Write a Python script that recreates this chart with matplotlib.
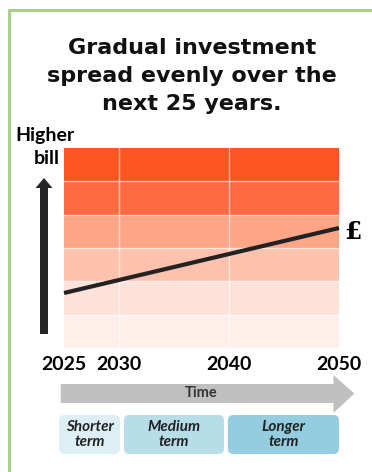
import matplotlib
matplotlib.use('Agg')
import matplotlib.pyplot as plt
from matplotlib.patches import Polygon, FancyBboxPatch, FancyArrow

# bill level over time (in bands, 0 = lowest, 6 = highest)
years = [2025, 2050]
bill = [1.65, 3.6]
year_ticks = [2025, 2030, 2040, 2050]
band_colors = ['#feefea', '#fee2d9', '#fdc2ad', '#fca587', '#fe6b43', '#fd5520']

terms = ['Shorter\nterm', 'Medium\nterm', 'Longer\nterm']
term_spans = [(2024.55, 2030.1), (2030.45, 2039.55), (2039.9, 2050.0)]
term_colors = ['#ddeff5', '#b7dde8', '#94cddf']

plt.rcParams['font.family'] = ['Lato', 'DejaVu Sans']

W, H = 372, 472
fig = plt.figure(figsize=(W / 100, H / 100), dpi=100)


def px(x0, y0, x1, y1):
    # pixel box (top-left origin) -> figure fraction rect
    return [x0 / W, 1 - y1 / H, (x1 - x0) / W, (y1 - y0) / H]


# background layer for frame, title and side labels
bg = fig.add_axes([0, 0, 1, 1])
bg.set_xlim(0, W)
bg.set_ylim(H, 0)
bg.axis('off')
bg.plot([9, 9, W], [H, 10, 10], color='#a9d18e', lw=2.2)
bg.text(192, 76, 'Gradual investment\nspread evenly over the\nnext 25 years.',
        ha='center', va='center', fontsize=16, fontweight='bold',
        family='DejaVu Sans', linespacing=1.5, color='#111111')
bg.text(45, 135, 'Higher', ha='center', va='center', fontsize=14, fontweight='bold')
bg.text(47, 158, 'bill', ha='center', va='center', fontsize=14, fontweight='bold')
bg.add_patch(FancyArrow(44, 334, 0, -156, width=8, head_width=17, head_length=10,
                        length_includes_head=True, color='#262626', lw=0))

# main chart
ax = fig.add_axes(px(64, 148, 339, 348))
for i, c in enumerate(band_colors):
    ax.axhspan(i, i + 1, color=c, lw=0)
for y in range(1, len(band_colors)):
    ax.axhline(y, color='white', lw=1, alpha=0.6)
for x in year_ticks[1:-1]:
    ax.axvline(x, color='white', lw=1, alpha=0.6)
ax.plot(years, bill, color='#222222', lw=3, solid_capstyle='butt', clip_on=False)
ax.set_xlim(2025, 2050)
ax.set_ylim(0, len(band_colors))
ax.set_xticks(year_ticks)
ax.set_yticks([])
for s in ax.spines.values():
    s.set_visible(False)
ax.tick_params(axis='x', length=0, pad=6, labelsize=14)
plt.setp(ax.get_xticklabels(), fontweight='bold')
ax.annotate('£', xy=(years[-1], bill[-1]), xytext=(14, -4), textcoords='offset pixels',
            ha='center', va='center', fontsize=18, fontweight='bold',
            family='DejaVu Serif', annotation_clip=False)

# time arrow and term boxes underneath
tl = fig.add_axes(px(64, 370, 339, 460))
tl.set_xlim(2025, 2050)
tl.set_ylim(0, 90)
tl.axis('off')
tl.add_patch(Polygon([(2024.7, 57), (2049.5, 57), (2049.5, 47), (2051.4, 66.5),
                      (2049.5, 85), (2049.5, 76), (2024.7, 76)],
                     closed=True, color='#bfbfbf', lw=0, clip_on=False))
tl.text(2037.5, 67, 'Time', ha='center', va='center', fontsize=10.5,
        fontweight='bold', color='#333333')

for (x0, x1), label, c in zip(term_spans, terms, term_colors):
    tl.add_patch(FancyBboxPatch((x0, 6), x1 - x0, 39,
                                boxstyle='round,pad=0,rounding_size=0.5',
                                mutation_aspect=11, color=c, lw=0, clip_on=False))
    tl.text((x0 + x1) / 2, 25.5, label, ha='center', va='center', fontsize=11,
            fontweight='bold', style='italic', color='#222222', linespacing=1.1)

fig.savefig('out.png', dpi=100)
